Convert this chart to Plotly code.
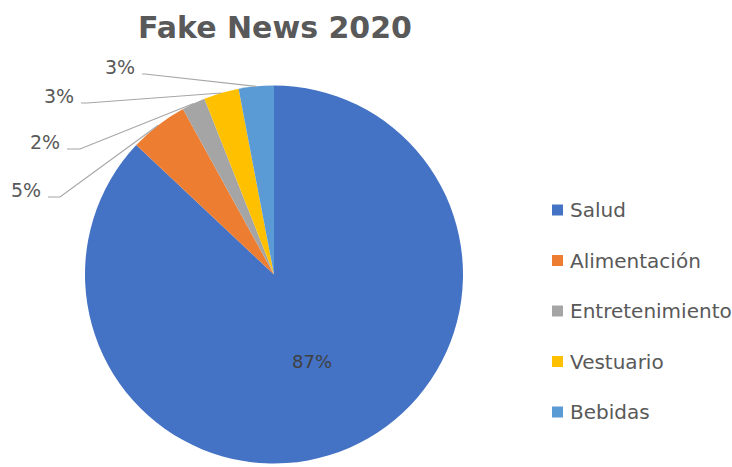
import math
import plotly.graph_objects as go

# ---- data -------------------------------------------------------------
categories = ["Salud", "Alimentación", "Entretenimiento", "Vestuario", "Bebidas"]
shares = [87, 5, 2, 3, 3]
colors = ["#4472C4", "#ED7D31", "#A5A5A5", "#FFC000", "#5B9BD5"]
title_text = "Fake News 2020"

# ---- layout geometry (pixels) ----------------------------------------
W, H = 732, 467
CX, CY, R = 274, 274.5, 189          # pie centre / radius
TEXT_GREY = "#595959"
FONT = "DejaVu Sans"

# outside callouts: label right edge x, leader-line y, horizontal run length
callouts = {
    "Alimentación": (43, 197, 12),
    "Entretenimiento": (62, 149, 13),
    "Vestuario": (76, 103, 6),
    "Bebidas": (137, 74, 3),
}
inside_label = "Salud"
legend_x, legend_y0, legend_step, swatch = 552, 210, 50.5, 11


def px(x):
    return x / W


def py(y):
    return 1 - y / H


def rim_point(idx, frac):
    """Point at radius frac*R on the bisector of slice idx (clockwise from 12 o'clock)."""
    total = sum(shares)
    start = sum(shares[:idx]) / total * 360
    mid = math.radians(start + shares[idx] / total * 180)
    return CX + frac * R * math.sin(mid), CY - frac * R * math.cos(mid)


fig = go.Figure(
    go.Pie(
        labels=categories,
        values=shares,
        sort=False,
        direction="clockwise",
        rotation=0,
        marker=dict(colors=colors, line=dict(width=0)),
        textinfo="none",
        showlegend=False,
        domain=dict(x=[px(CX - R), px(CX + R)], y=[py(CY + R), py(CY - R)]),
    )
)

annotations = []
shapes = []
total = sum(shares)

for i, (cat, val) in enumerate(zip(categories, shares)):
    pct = f"{round(val / total * 100)}%"
    if cat == inside_label:
        x, y = rim_point(i, 0.5)
        annotations.append(dict(x=px(x), y=py(y), xref="paper", yref="paper",
                                xanchor="center", yanchor="middle",
                                text=pct, showarrow=False,
                                font=dict(family=FONT, size=18, color="#404040")))
    elif cat in callouts:
        tx, ly, run = callouts[cat]
        ex, ey = rim_point(i, 1.0)
        x0 = tx + 5
        path = (f"M {px(x0)},{py(ly)} L {px(x0 + run)},{py(ly)} "
                f"L {px(ex)},{py(ey)}")
        shapes.append(dict(type="path", path=path, xref="paper", yref="paper",
                           line=dict(color="#A6A6A6", width=1.2)))
        annotations.append(dict(x=px(tx), y=py(ly - 7), xref="paper", yref="paper",
                                xanchor="right", yanchor="middle",
                                text=pct, showarrow=False,
                                font=dict(family=FONT, size=19, color=TEXT_GREY)))

# legend drawn as swatches + labels
for i, (cat, col) in enumerate(zip(categories, colors)):
    cy = legend_y0 + i * legend_step
    shapes.append(dict(type="rect", xref="paper", yref="paper",
                       x0=px(legend_x), x1=px(legend_x + swatch),
                       y0=py(cy + swatch / 2), y1=py(cy - swatch / 2),
                       fillcolor=col, line=dict(width=0)))
    annotations.append(dict(x=px(legend_x + swatch + 5), y=py(cy), xref="paper", yref="paper",
                            xanchor="left", yanchor="middle", text=cat, showarrow=False,
                            font=dict(family=FONT, size=20, color=TEXT_GREY)))

fig.update_layout(
    width=W,
    height=H,
    margin=dict(l=0, r=0, t=0, b=0),
    paper_bgcolor="white",
    plot_bgcolor="white",
    title=dict(text=f"<b>{title_text}</b>", x=px(275), y=py(27),
               xanchor="center", yanchor="middle",
               font=dict(family=FONT, size=30, color=TEXT_GREY)),
    annotations=annotations,
    shapes=shapes,
)

fig.write_html("out.html")
